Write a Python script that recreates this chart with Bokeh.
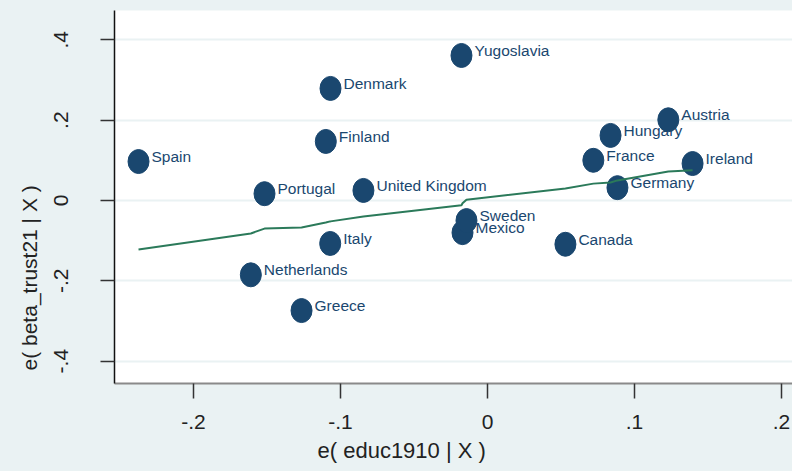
from bokeh.plotting import figure
from bokeh.models import Range1d, FixedTicker, Title, ColumnDataSource
from bokeh.core.properties import value
from bokeh.embed import file_html
from bokeh.resources import INLINE

countries = ["Spain", "Netherlands", "Portugal", "Greece", "Finland", "Italy", "Denmark",
             "United Kingdom", "Yugoslavia", "Mexico", "Sweden", "Canada", "France",
             "Hungary", "Germany", "Austria", "Ireland"]
educ_resid = [-0.2374, -0.161, -0.1517, -0.1265, -0.110, -0.107, -0.1068,
              -0.0844, -0.0177, -0.017, -0.0143, 0.053, 0.072,
              0.0837, 0.0884, 0.123, 0.1395]
trust_resid = [0.097, -0.185, 0.017, -0.274, 0.147, -0.107, 0.279,
               0.025, 0.361, -0.080, -0.050, -0.109, 0.100,
               0.162, 0.032, 0.201, 0.092]
fitted = [-0.122, -0.082, -0.070, -0.067, -0.055, -0.052, -0.052,
          -0.040, -0.012, -0.007, 0.002, 0.030, 0.042,
          0.045, 0.050, 0.072, 0.075]

x_ticks = [-0.2, -0.1, 0.0, 0.1, 0.2]
x_tick_labels = ["-.2", "-.1", "0", ".1", ".2"]
y_ticks = [-0.4, -0.2, 0.0, 0.2, 0.4]
y_tick_labels = ["-.4", "-.2", "0", ".2", ".4"]
x_title = "e( educ1910 | X )"
y_title = "e( beta_trust21 | X )"

BG = "#eaf2f3"
NAVY = "#1a476f"
GREEN = "#2b7a5a"
FONT = "Liberation Sans"

src = ColumnDataSource(dict(x=educ_resid, y=trust_resid, name=countries, fit=fitted))

p = figure(width=792, height=471, output_backend="svg", toolbar_location=None,
           x_range=Range1d(-0.25374, 0.20748), y_range=Range1d(-0.4556, 0.4730),
           min_border_left=114, min_border_right=0, min_border_top=10, min_border_bottom=88)
p.background_fill_color = "white"
p.border_fill_color = BG
p.outline_line_color = None

p.xgrid.visible = False
p.ygrid.ticker = FixedTicker(ticks=y_ticks)
p.ygrid.grid_line_color = BG
p.ygrid.grid_line_width = 2

for ax in (p.xaxis[0], p.yaxis[0]):
    ax.major_label_text_font = FONT
    ax.major_label_text_font_size = "21px"
    ax.major_label_text_color = "#222222"
    ax.minor_tick_line_color = None
    ax.major_tick_in = 0
    ax.major_tick_line_width = 1.5
    ax.major_tick_line_color = "#333333"

p.xaxis.ticker = FixedTicker(ticks=x_ticks)
p.xaxis.major_label_overrides = {t: l for t, l in zip(x_ticks, x_tick_labels)}
p.xaxis.major_tick_out = 15
p.xaxis.major_label_standoff = 16
p.xaxis.axis_line_color = "#8a8a8a"
p.xaxis.axis_line_width = 2

p.yaxis.ticker = FixedTicker(ticks=y_ticks)
p.yaxis.major_label_overrides = {t: l for t, l in zip(y_ticks, y_tick_labels)}
p.yaxis.major_label_orientation = "vertical"
p.yaxis.major_tick_out = 14
p.yaxis.major_label_standoff = 32
p.yaxis.axis_line_color = "#111111"
p.yaxis.axis_line_width = 1.5

p.add_layout(Title(text=y_title, align="left", offset=13, vertical_align="middle",
                   standoff=20, text_font=FONT, text_font_size="21px",
                   text_font_style="normal", text_color="#222222"), "left")
p.add_layout(Title(text=x_title, align="left", offset=203, vertical_align="bottom",
                   standoff=8, text_font=FONT, text_font_size="22px",
                   text_font_style="normal", text_color="#222222"), "below")

p.text(x="x", y="y", text="name", source=src, x_offset=13, y_offset=-5,
       text_font=value(FONT), text_font_size="15.5px", text_color=NAVY,
       text_baseline="middle", text_align="left")
p.ellipse(x="x", y="y", width=21, height=24, width_units="screen", height_units="screen",
          source=src, fill_color=NAVY, line_color=NAVY)
p.line(x="x", y="fit", source=src, line_color=GREEN, line_width=2)

html = file_html(p, INLINE)
html = html.replace("</head>", "<style>body{background:%s;}</style></head>" % BG, 1)
open("out.html", "w").write(html)
